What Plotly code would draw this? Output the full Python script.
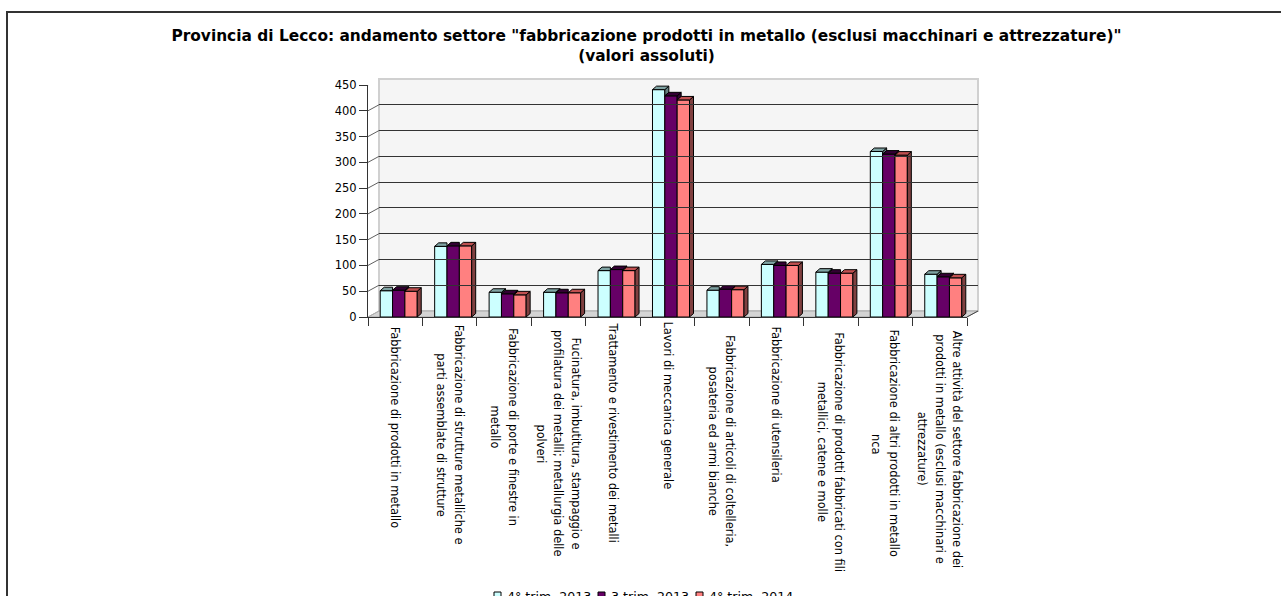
import plotly.graph_objects as go

W, H = 1281, 596

categories = [
    "Fabbricazione di prodotti in metallo",
    "Fabbricazione di strutture metalliche e<br>parti assemblate di strutture",
    "Fabbricazione di porte e finestre in<br>metallo",
    "Fucinatura, imbutitura, stampaggio e<br>profilatura dei metalli; metallurgia delle<br>polveri",
    "Trattamento e rivestimento dei metalli",
    "Lavori di meccanica generale",
    "Fabbricazione di articoli di coltelleria,<br>posateria ed armi bianche",
    "Fabbricazione di utensileria",
    "Fabbricazione di prodotti fabbricati con fili<br>metallici, catene e molle",
    "Fabbricazione di altri prodotti in metallo<br>nca",
    "Altre attività del settore fabbricazione dei<br>prodotti in metallo (esclusi macchinari e<br>attrezzature)",
]
trim_4_2013 = [51, 137, 48, 48, 90, 441, 52, 102, 87, 321, 83]
trim_3_2013 = [52, 138, 45, 47, 92, 429, 54, 100, 85, 316, 78]
trim_4_2014 = [50, 138, 43, 47, 90, 421, 53, 100, 85, 314, 76]
series_names = ["4° trim. 2013", "3 trim. 2013", "4° trim. 2014"]
colors = ["#CCFFFF", "#660066", "#FF8080"]
tops = ["#7FA3A3", "#330033", "#C05050"]
sides = ["#668080", "#330033", "#804040"]
y_ticks = list(range(0, 451, 50))
title = ('Provincia di Lecco: andamento settore "fabbricazione prodotti in metallo '
         '(esclusi macchinari e attrezzature)"<br>(valori assoluti)')

FONT = "DejaVu Sans"
X0, X1, Y0, Y450 = 368.0, 967.0, 317.0, 85.0
WALL_DX, WALL_DY = 11.0, 6.0
BAR_DX = 3.5
DEPTH_X, DEPTH_Y = 4.0, 3.5
BARGAP = 0.32
LINE_STEP = 17.5
CHAR_PX = 5.5
LABEL_TOP = 328


def dx(px0, px1):
    return [px0 / W, px1 / W]


def dy(py_bottom, py_top):
    return [1 - py_bottom / H, 1 - py_top / H]


fig = go.Figure()
values = [trim_4_2013, trim_3_2013, trim_4_2014]
n = len(categories)
positions = list(range(n))
x_unit = (X1 - X0) / n
y_unit = (Y0 - Y450) / 450
bar_w = (1 - BARGAP) / 3
ddx = DEPTH_X / x_unit
ddy = DEPTH_Y / y_unit

# 3D sides and tops of each bar, worked out from the values
for s, vals in enumerate(values):
    side_x, side_y, top_x, top_y = [], [], [], []
    for i, v in enumerate(vals):
        left = i - (1 - BARGAP) / 2 + s * bar_w
        right = left + bar_w
        nxt = values[s + 1][i] if s < 2 else 0
        if nxt < v:
            low = nxt
            side_x += [right, right + ddx, right + ddx, right, right, None]
            side_y += [low, low + ddy, v + ddy, v, low, None]
            top_x += [left, left + ddx, right + ddx, right, left, None]
            top_y += [v, v + ddy, v + ddy, v, v, None]
        else:
            top_x += [left, left + ddx, right, right, left, None]
            top_y += [v, v + ddy, v + ddy, v, v, None]
    for xs, ys, col in ((side_x, side_y, sides[s]), (top_x, top_y, tops[s])):
        fig.add_trace(go.Scatter(
            x=xs, y=ys, xaxis="x2", yaxis="y2", mode="lines", fill="toself",
            fillcolor=col, line=dict(color="#000000", width=1),
            hoverinfo="skip", showlegend=False))

for s, vals in enumerate(values):
    fig.add_trace(go.Bar(
        x=positions, y=vals, name=series_names[s], xaxis="x2", yaxis="y2",
        marker=dict(color=colors[s], line=dict(color="#000000", width=1)),
        showlegend=False,
    ))

fig.add_trace(go.Scatter(x=[None], y=[None], xaxis="x3", yaxis="y3", showlegend=False, hoverinfo="skip"))
fig.add_trace(go.Scatter(x=[None], y=[None], xaxis="x", yaxis="y", showlegend=False, hoverinfo="skip"))

shapes = [
    # outer page frame, runs off the right and bottom of the picture
    dict(type="rect", xref="paper", yref="paper", x0=7 / W, x1=1.02, y0=-0.02, y1=1 - 12 / H,
         line=dict(color="#333333", width=2), fillcolor="rgba(0,0,0,0)", layer="below"),
    # back wall
    dict(type="rect", xref="paper", yref="paper",
         x0=(X0 + WALL_DX) / W, x1=(X1 + WALL_DX) / W,
         y0=1 - (Y0 - WALL_DY) / H, y1=1 - (Y450 - WALL_DY) / H,
         line=dict(color="#D0D0D0", width=2), fillcolor="#F5F5F5", layer="below"),
    # floor
    dict(type="path", xref="paper", yref="paper",
         path=(f"M{X0 / W},{1 - Y0 / H} L{(X0 + WALL_DX) / W},{1 - (Y0 - WALL_DY) / H} "
               f"L{(X1 + WALL_DX) / W},{1 - (Y0 - WALL_DY) / H} L{X1 / W},{1 - Y0 / H} Z"),
         line=dict(color="#A8A8A8", width=1), fillcolor="#D4D4D4", layer="below"),
]
# short diagonals from the axis to the wall at each tick
for t in y_ticks:
    shapes.append(dict(type="line", xref="paper", yref="y", x0=X0 / W, x1=(X0 + WALL_DX) / W,
                       y0=t, y1=t + WALL_DY / y_unit,
                       line=dict(color="#B0B0B0" if t in (0, 450) else "#606060", width=1),
                       layer="below"))
# right edge diagonal of the floor
shapes.append(dict(type="line", xref="paper", yref="paper", x0=X1 / W, x1=(X1 + WALL_DX) / W,
                   y0=1 - Y0 / H, y1=1 - (Y0 - WALL_DY) / H,
                   line=dict(color="#444444", width=1)))

annotations = []
for i, c in enumerate(categories):
    lines = c.split("<br>")
    center = LABEL_TOP + max(len(l) for l in lines) * CHAR_PX / 2
    for k, line in enumerate(lines):
        annotations.append(dict(
            text=line, x=i, xref="x", y=1 - center / H, yref="paper", textangle=90,
            showarrow=False, xanchor="center", yanchor="middle",
            xshift=((len(lines) - 1) / 2 - k) * LINE_STEP,
            font=dict(family=FONT, size=11.4, color="#000000")))

# legend: small square swatches and tight text, cut by the bottom of the picture
legend_x = [494, 598, 696]
for name, col, lx in zip(series_names, colors, legend_x):
    shapes.append(dict(type="rect", xref="paper", yref="paper",
                       x0=lx / W, x1=(lx + 7) / W, y0=1 - 599 / H, y1=1 - 592 / H,
                       line=dict(color="#000000", width=1), fillcolor=col))
    annotations.append(dict(text=name, xref="paper", yref="paper", x=(lx + 12) / W, y=1 - 588 / H,
                            xanchor="left", yanchor="top", showarrow=False, borderpad=0,
                            font=dict(family=FONT, size=12.6, color="#000000")))

fig.update_layout(
    width=W, height=H,
    margin=dict(l=0, r=0, t=0, b=0, pad=0, autoexpand=False),
    paper_bgcolor="#FFFFFF", plot_bgcolor="rgba(0,0,0,0)",
    barmode="group", bargap=BARGAP, bargroupgap=0,
    font=dict(family=FONT, color="#000000"),
    title=dict(text=title, x=646.5 / W, xanchor="center", y=1 - 41 / H, yanchor="top",
               font=dict(family=FONT, size=15.4, color="#000000", weight="bold")),
    showlegend=False,
    shapes=shapes, annotations=annotations,
    xaxis=dict(domain=dx(X0, X1), range=[-0.5, n - 0.5], anchor="y",
               tickmode="array", tickvals=[i - 0.5 for i in range(n + 1)], ticktext=[""] * (n + 1),
               ticks="outside", ticklen=8, tickcolor="#333333", showgrid=False, zeroline=False,
               showline=True, linecolor="#333333", linewidth=1),
    yaxis=dict(domain=dy(Y0, Y450), range=[0, 450], anchor="x",
               tickmode="array", tickvals=y_ticks, ticks="outside", ticklen=8, tickcolor="#333333",
               tickfont=dict(family=FONT, size=11.5, color="#000000"), showgrid=False, zeroline=False,
               showline=True, linecolor="#333333", linewidth=1),
    xaxis2=dict(domain=dx(X0 + BAR_DX, X1 + BAR_DX), range=[-0.5, n - 0.5], anchor="y2", visible=False),
    yaxis2=dict(domain=dy(Y0, Y450), range=[0, 450], anchor="x2", visible=False),
    xaxis3=dict(domain=dx(X0 + WALL_DX, X1 + WALL_DX), range=[-0.5, n - 0.5], anchor="y3", visible=False),
    yaxis3=dict(domain=dy(Y0 - WALL_DY, Y450 - WALL_DY), range=[0, 450], anchor="x3",
                tickmode="array", tickvals=y_ticks[1:-1], showticklabels=False, ticks="",
                showgrid=True, gridcolor="#333333", gridwidth=1, zeroline=False, showline=False),
)

fig.write_html("out.html", config={"displayModeBar": False},
               post_script="document.body.style.margin='0';document.documentElement.style.overflow='hidden';")
